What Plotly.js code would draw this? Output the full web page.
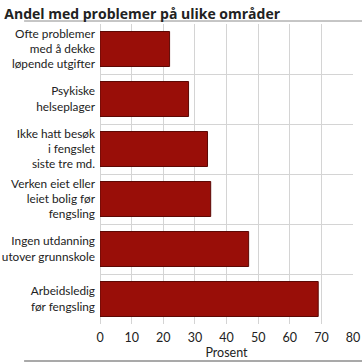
<!DOCTYPE html>
<html>
<head>
<meta charset="utf-8">
<script src="https://cdn.plot.ly/plotly-3.0.1.min.js"></script>
<style>
html,body{margin:0;padding:0;background:#fff;}
#chart{width:362px;height:362px;}
</style>
</head>
<body>
<div id="chart"></div>
<script>
const categories = [
  "Ofte problemer<br>med å dekke<br>løpende utgifter",
  "Psykiske<br>helseplager",
  "Ikke hatt besøk<br>i fengslet<br>siste tre md.",
  "Verken eiet eller<br>leiet bolig før<br>fengsling",
  "Ingen utdanning<br>utover grunnskole",
  "Arbeidsledig<br>før fengsling"
];
const values = [22, 28, 34, 35, 47, 69];
const xTicks = [0, 10, 20, 30, 40, 50, 60, 70, 80];
const titleText = "Andel med problemer på ulike områder";
const xTitle = "Prosent";

const font = "Lato, 'Open Sans', sans-serif";

const trace = {
  type: "bar",
  orientation: "h",
  y: categories,
  x: values,
  marker: {color: "#990e08", line: {color: "#5c0804", width: 1}},
  hoverinfo: "none"
};

const layout = {
  width: 362,
  height: 362,
  margin: {l: 100, r: 9, t: 24, b: 38},
  paper_bgcolor: "#fff",
  plot_bgcolor: "#fff",
  showlegend: false,
  bargap: 0.3,
  font: {family: font, size: 12, color: "#222"},
  title: {
    text: "<b>" + titleText + "</b>",
    x: 0.012, xanchor: "left",
    yref: "container",
    y: 0.975, yanchor: "top",
    font: {family: "'Open Sans', sans-serif", size: 14, color: "#222"}
  },
  xaxis: {
    range: [0, 80],
    tickvals: xTicks,
    ticktext: xTicks.map(String),
    showgrid: true,
    gridcolor: "#d4d4d4",
    gridwidth: 1,
    zeroline: true,
    zerolinecolor: "#d4d4d4",
    showline: false,
    ticks: "",
    ticklabelstandoff: 4,
    tickfont: {size: 12.5, color: "#222"},
    title: {text: xTitle, font: {size: 12.5, color: "#222"}, standoff: 2},
    fixedrange: true
  },
  yaxis: {
    type: "category",
    autorange: "reversed",
    tickson: "boundaries",
    showgrid: true,
    gridcolor: "#d4d4d4",
    gridwidth: 1,
    showline: false,
    ticks: "",
    ticklen: 0,
    ticklabelstandoff: 4,
    tickfont: {size: 11.8, color: "#222"},
    automargin: false,
    fixedrange: true
  },
  shapes: [
    {type: "line", xref: "paper", yref: "paper", x0: -0.3, x1: 1.05, y0: 1.01, y1: 1.01,
     line: {color: "#8c8c8c", width: 1}},
    {type: "line", xref: "paper", yref: "paper", x0: -0.3, x1: 1.05, y0: -0.123, y1: -0.123,
     line: {color: "#8c8c8c", width: 1.5}}
  ]
};

Plotly.newPlot("chart", [trace], layout, {displayModeBar: false, staticPlot: true});
</script>
</body>
</html>
